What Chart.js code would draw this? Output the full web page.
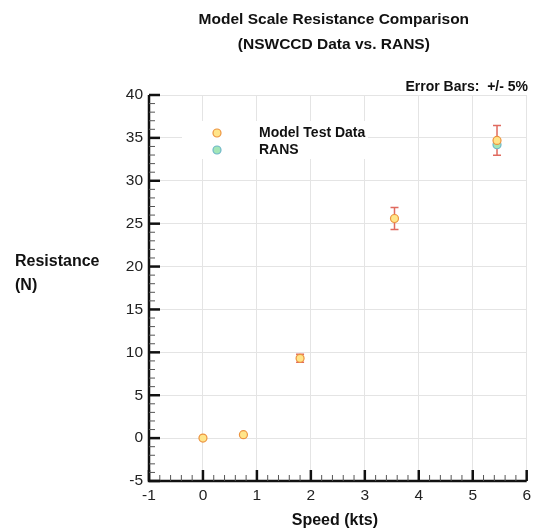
<!DOCTYPE html>
<html>
<head>
<meta charset="utf-8">
<script src="https://cdn.jsdelivr.net/npm/chart.js@4/dist/chart.umd.min.js"></script>
<style>
  html, body { margin: 0; padding: 0; background: #fff; }
  #wrap { width: 536px; height: 530px; }
</style>
</head>
<body>
<div id="wrap"><canvas id="chart" width="536" height="530"></canvas></div>
<script>
// model test data (NSWCCD) and the single RANS point
var speedKts = [0, 0.75, 1.8, 3.55, 5.45];
var modelResistance = [0, 0.4, 9.3, 25.6, 34.7];
var ransSpeed = [5.45];
var ransResistance = [34.2];
var errorPercent = 5;

var xTicks = [-1, 0, 1, 2, 3, 4, 5, 6];
var yTicks = [-5, 0, 5, 10, 15, 20, 25, 30, 35, 40];

var FONT = '"Liberation Sans", Arial, sans-serif';

function toPoints (xs, ys) {
  var pts = [];
  for (let i = 0; i < xs.length; i++) {
    pts.push({ x: xs[i], y: ys[i] });
  }
  return pts;
}

// error bars behind the markers
var errorBars = {
  id: 'errorBars',
  beforeDatasetsDraw: function (chart) {
    var ctx = chart.ctx;
    var xs = chart.scales.x;
    var ys = chart.scales.y;
    ctx.save();
    ctx.strokeStyle = '#e06a5f';
    ctx.lineWidth = 1.5;
    for (let i = 0; i < speedKts.length; i++) {
      var err = modelResistance[i] * errorPercent / 100;
      if (err <= 0.05) continue;
      var px = xs.getPixelForValue(speedKts[i]);
      var top = ys.getPixelForValue(modelResistance[i] + err);
      var bot = ys.getPixelForValue(modelResistance[i] - err);
      ctx.beginPath();
      ctx.moveTo(px, top); ctx.lineTo(px, bot);
      ctx.moveTo(px - 4, top); ctx.lineTo(px + 4, top);
      ctx.moveTo(px - 4, bot); ctx.lineTo(px + 4, bot);
      ctx.stroke();
    }
    ctx.restore();
  }
};

// heavy axes with inward major and minor ticks, plus all the free text
var decorations = {
  id: 'decorations',
  afterDatasetsDraw: function (chart) {
    var ctx = chart.ctx;
    var area = chart.chartArea;
    var xs = chart.scales.x;
    var ys = chart.scales.y;
    ctx.save();

    // legend box
    ctx.fillStyle = '#fff';
    ctx.fillRect(182, 121, 186, 38);
    var legend = [
      { label: 'Model Test Data', fill: '#ffe58a', stroke: '#ec9440', y: 133 },
      { label: 'RANS', fill: '#a3e6b8', stroke: '#6fb7c9', y: 150 }
    ];
    ctx.font = 'bold 14px ' + FONT;
    ctx.textBaseline = 'middle';
    ctx.textAlign = 'left';
    legend.forEach(function (item) {
      ctx.beginPath();
      ctx.arc(217, item.y, 4, 0, Math.PI * 2);
      ctx.fillStyle = item.fill;
      ctx.fill();
      ctx.lineWidth = 1.2;
      ctx.strokeStyle = item.stroke;
      ctx.stroke();
      ctx.fillStyle = '#111';
      ctx.fillText(item.label, 259, item.y);
    });

    // axis lines
    ctx.strokeStyle = '#111';
    ctx.lineWidth = 2.5;
    ctx.beginPath();
    ctx.moveTo(area.left, area.top);
    ctx.lineTo(area.left, area.bottom);
    ctx.lineTo(area.right, area.bottom);
    ctx.stroke();

    // x ticks
    for (let v = -1; v <= 6.001; v += 0.2) {
      var major = Math.abs(v - Math.round(v)) < 0.01;
      var px = xs.getPixelForValue(v);
      ctx.lineWidth = major ? 2.5 : 1;
      ctx.strokeStyle = major ? '#111' : '#555';
      ctx.beginPath();
      ctx.moveTo(px, area.bottom);
      ctx.lineTo(px, area.bottom - (major ? 11 : 6));
      ctx.stroke();
    }
    // y ticks
    for (let v = -5; v <= 40; v += 1) {
      var majorY = v % 5 === 0;
      var py = ys.getPixelForValue(v);
      ctx.lineWidth = majorY ? 2.5 : 1;
      ctx.strokeStyle = majorY ? '#111' : '#555';
      ctx.beginPath();
      ctx.moveTo(area.left, py);
      ctx.lineTo(area.left + (majorY ? 11 : 6), py);
      ctx.stroke();
    }

    // titles
    ctx.fillStyle = '#111';
    ctx.font = 'bold 15.5px ' + FONT;
    ctx.textAlign = 'center';
    var cx = (area.left + area.right) / 2 - 4;
    ctx.fillText('Model Scale Resistance Comparison', cx, 20);
    ctx.fillText('(NSWCCD Data vs. RANS)', cx, 45);
    ctx.font = 'bold 16px ' + FONT;
    ctx.fillText('Speed (kts)', cx + 1, 521);
    ctx.textAlign = 'left';
    ctx.fillText('Resistance', 15, 262);
    ctx.fillText('(N)', 15, 286);
    ctx.font = 'bold 14px ' + FONT;
    ctx.textAlign = 'right';
    ctx.fillText('Error Bars:  +/- 5%', 528, 87);
    ctx.restore();
  }
};

var ctx = document.getElementById('chart').getContext('2d');
var chart = new Chart(ctx, {
  type: 'scatter',
  data: {
    datasets: [
      {
        label: 'Model Test Data',
        data: toPoints(speedKts, modelResistance),
        backgroundColor: '#ffe58a',
        borderColor: '#ec9440',
        borderWidth: 1.2,
        pointRadius: 4
      },
      {
        label: 'RANS',
        data: toPoints(ransSpeed, ransResistance),
        backgroundColor: '#a3e6b8',
        borderColor: '#6fb7c9',
        borderWidth: 1.2,
        pointRadius: 4
      }
    ]
  },
  options: {
    responsive: false,
    animation: false,
    layout: { padding: { left: 0, right: 8, top: 95, bottom: 0 } },
    plugins: {
      legend: { display: false },
      tooltip: { enabled: false }
    },
    scales: {
      x: {
        type: 'linear',
        min: -1,
        max: 6,
        afterBuildTicks: function (scale) {
          scale.ticks = xTicks.map(function (v) { return { value: v }; });
        },
        afterFit: function (scale) { scale.height = 49; },
        grid: { color: '#e4e4e4', lineWidth: 1, drawTicks: false },
        border: { display: false },
        ticks: {
          padding: 5,
          color: '#222',
          font: { family: FONT, size: 15.5 }
        }
      },
      y: {
        type: 'linear',
        min: -5,
        max: 40,
        afterBuildTicks: function (scale) {
          scale.ticks = yTicks.map(function (v) { return { value: v }; });
        },
        afterFit: function (scale) { scale.width = 149; },
        grid: { color: '#e4e4e4', lineWidth: 1, drawTicks: false },
        border: { display: false },
        ticks: {
          padding: 6,
          color: '#222',
          font: { family: FONT, size: 15.5 }
        }
      }
    }
  },
  plugins: [errorBars, decorations]
});
</script>
</body>
</html>
